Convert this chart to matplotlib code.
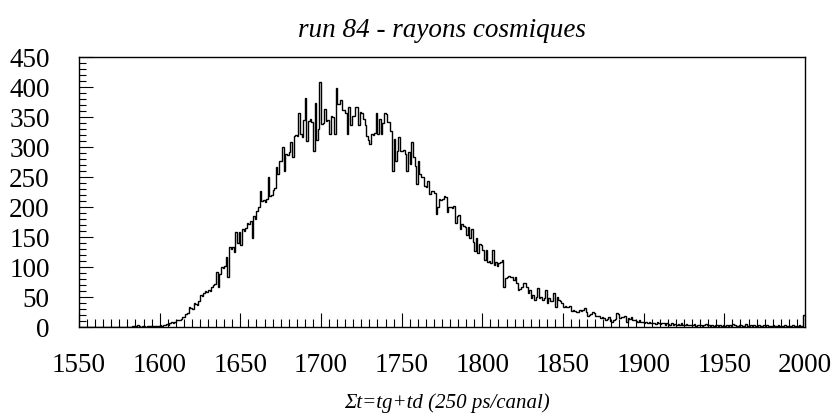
import numpy as np
import matplotlib
matplotlib.use("Agg")
import matplotlib.pyplot as plt
from matplotlib.ticker import MultipleLocator

# Channel range of the time-sum spectrum (1 channel per bin)
x_start = 1550
x_stop = 2000

# Counts per channel, 1550 .. 1999 (ten channels per row)
counts = [
    0, 0, 0, 0, 0, 0, 0, 0, 0, 0,                 # 1550
    0, 0, 0, 0, 0, 0, 0, 0, 0, 0,                 # 1560
    0, 0, 0, 0, 0, 0, 0, 0, 0, 0,                 # 1570
    0, 0, 0, 1, 2, 1, 3, 1, 0, 1,                 # 1580
    1, 0, 1, 2, 1, 2, 1, 1, 2, 2,                 # 1590
    3, 2, 4, 3, 5, 4, 7, 8, 6, 9,                 # 1600
    12, 11, 12, 14, 17, 16, 22, 24, 34, 31,       # 1610
    30, 40, 38, 36, 44, 54, 52, 57, 60, 58,       # 1620
    62, 60, 66, 70, 72, 92, 67, 88, 100, 99,      # 1630
    102, 116, 84, 133, 130, 134, 125, 158, 140, 158,   # 1640
    137, 163, 160, 165, 174, 172, 176, 149, 185, 180,  # 1650
    193, 200, 226, 210, 212, 208, 214, 250, 218, 220,  # 1660
    228, 232, 267, 255, 277, 276, 300, 260, 289, 287,  # 1670
    292, 309, 283, 318, 320, 319, 356, 322, 317, 345,  # 1680
    382, 310, 344, 346, 342, 293, 374, 311, 330, 409,  # 1690
    339, 340, 364, 344, 345, 322, 352, 350, 322, 398,  # 1700
    372, 371, 378, 361, 362, 356, 322, 367, 336, 352,  # 1710
    352, 367, 366, 336, 358, 357, 347, 336, 319, 312,  # 1720
    305, 322, 320, 323, 356, 322, 347, 322, 340, 356,  # 1730
    355, 342, 341, 327, 260, 314, 277, 294, 317, 294,  # 1740
    294, 295, 289, 260, 291, 272, 309, 283, 269, 238,  # 1750
    277, 255, 250, 250, 235, 233, 243, 221, 226, 226,  # 1760
    224, 188, 200, 213, 212, 214, 218, 216, 191, 200,  # 1770
    200, 199, 201, 174, 185, 186, 163, 171, 168, 167,  # 1780
    154, 166, 149, 163, 141, 126, 149, 124, 138, 137,  # 1790
    129, 112, 129, 109, 110, 107, 129, 104, 109, 101,  # 1800
    107, 108, 112, 67, 82, 84, 85, 83, 84, 79,         # 1810
    84, 74, 62, 63, 67, 74, 73, 67, 57, 62,            # 1820
    48, 54, 45, 50, 65, 48, 50, 45, 48, 62,            # 1830
    40, 48, 43, 44, 57, 34, 50, 45, 44, 40,            # 1840
    34, 35, 33, 34, 35, 27, 28, 27, 25, 25,            # 1850
    28, 27, 29, 31, 25, 18, 20, 21, 25, 24,            # 1860
    18, 19, 18, 15, 16, 15, 12, 13, 17, 10,            # 1870
    9, 12, 14, 23, 22, 15, 17, 16, 18, 9,              # 1880
    15, 14, 16, 12, 12, 10, 9, 11, 8, 9,               # 1890
    7, 8, 6, 9, 7, 6, 7, 5, 8, 6,                      # 1900
    5, 7, 6, 4, 6, 5, 4, 6, 3, 5,                      # 1910
    4, 5, 3, 6, 4, 3, 5, 4, 3, 4,                      # 1920
    3, 5, 2, 4, 3, 4, 2, 3, 5, 3,                      # 1930
    4, 2, 3, 2, 4, 3, 1, 3, 2, 4,                      # 1940
    2, 3, 1, 4, 2, 5, 3, 1, 2, 3,                      # 1950
    4, 1, 2, 5, 1, 2, 3, 1, 4, 2,                      # 1960
    1, 3, 2, 1, 4, 1, 3, 2, 1, 2,                      # 1970
    3, 1, 2, 4, 1, 2, 1, 3, 1, 2,                      # 1980
    1, 2, 4, 1, 2, 1, 3, 1, 1, 20,                     # 1990
]

x_ticks = [1550, 1600, 1650, 1700, 1750, 1800, 1850, 1900, 1950, 2000]
y_ticks = [0, 50, 100, 150, 200, 250, 300, 350, 400, 450]

title_text = "run 84 - rayons cosmiques"
xlabel_text = "\u03a3t=tg+td (250 ps/canal)"

edges = np.arange(x_start, x_stop + 1, 1)

plt.rcParams["font.family"] = ["Liberation Serif", "DejaVu Serif"]

fig = plt.figure(figsize=(8.33, 4.18), dpi=100)
ax = fig.add_axes([0.0948, 0.2177, 0.9664 - 0.0948, 0.8636 - 0.2177])

ax.stairs(counts, edges, color="black", linewidth=1.0, baseline=None)

ax.set_xlim(x_start, x_stop)
ax.set_ylim(0, 450)

ax.set_xticks(x_ticks)
ax.set_yticks(y_ticks)
ax.xaxis.set_minor_locator(MultipleLocator(5))
ax.yaxis.set_minor_locator(MultipleLocator(10))

ax.tick_params(axis="both", which="both", direction="in",
               top=False, right=False, labelsize=19.5)
ax.tick_params(axis="x", which="major", length=10, width=0.8, pad=19)
ax.tick_params(axis="x", which="minor", length=6, width=0.8)
ax.tick_params(axis="y", which="major", length=10, width=0.8, pad=21)
ax.tick_params(axis="y", which="minor", length=5, width=0.8)

for sp in ax.spines.values():
    sp.set_linewidth(1.0)

fig.text(0.530, 0.928, title_text, ha="center", va="center",
         fontsize=19.5, style="italic")
fig.text(0.536, 0.036, xlabel_text, ha="center", va="center",
         fontsize=15, style="italic")

fig.savefig("out.png", dpi=100)
